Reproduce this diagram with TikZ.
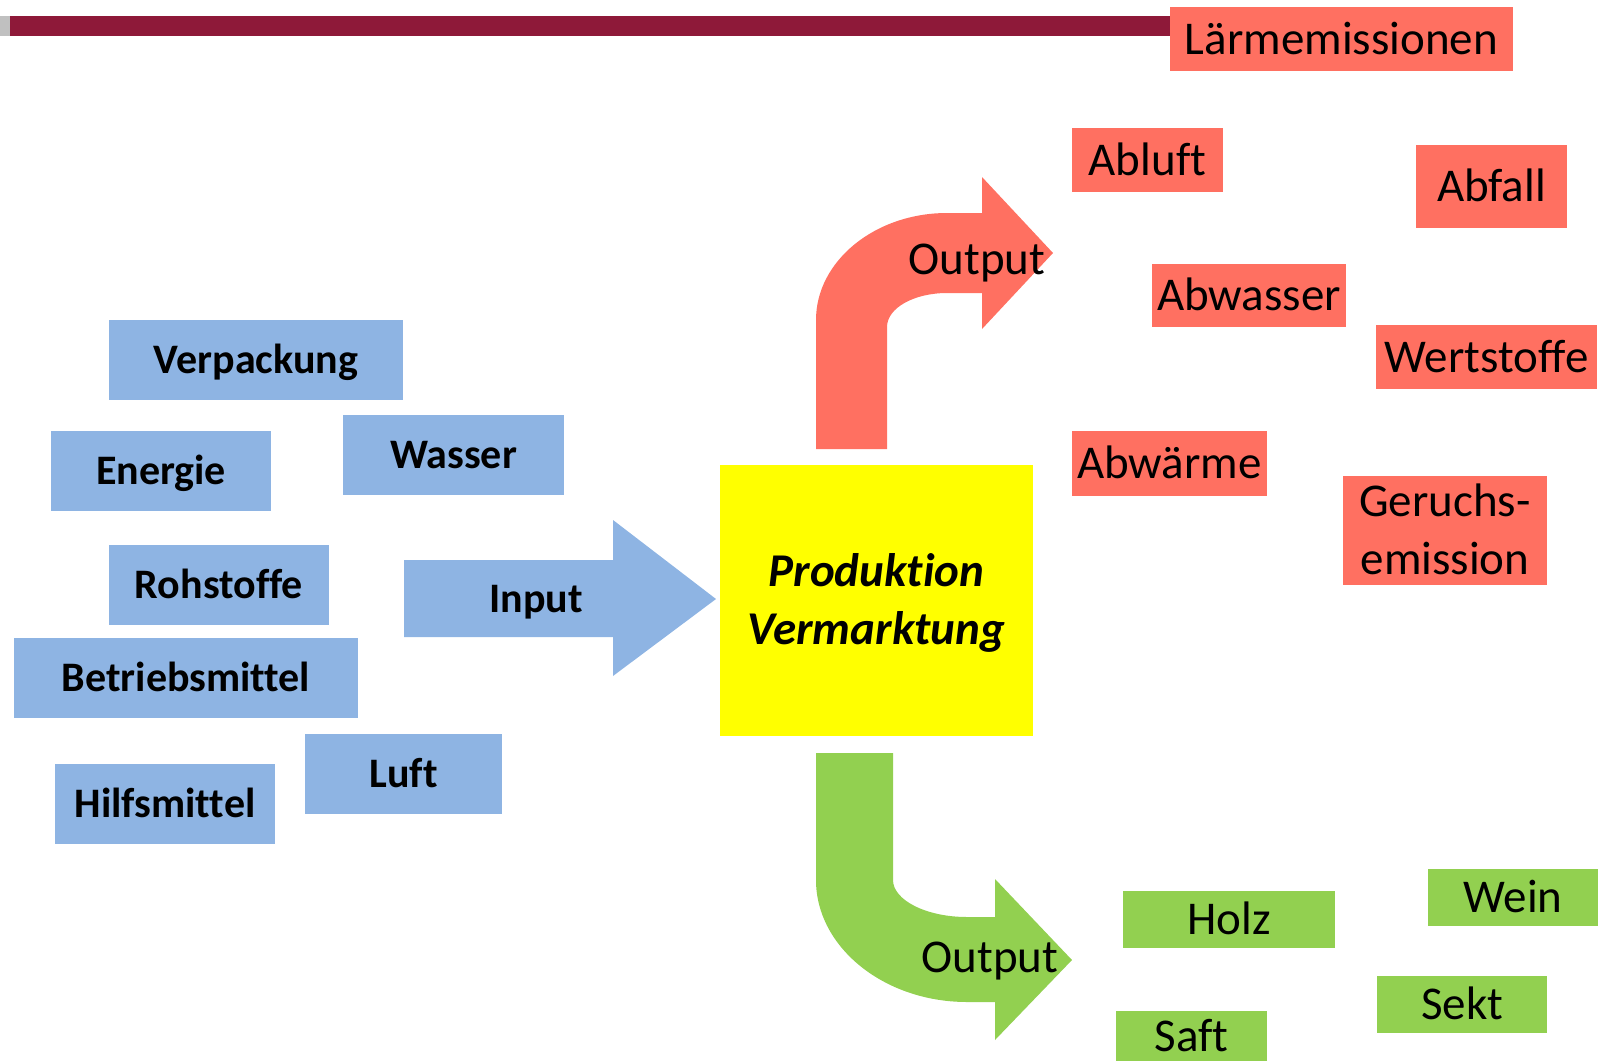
\documentclass[tikz,border=0pt]{standalone}
\usepackage{fontspec}
\setmainfont[Ligatures=NoCommon]{Carlito}
\usepackage{tikz}
\definecolor{myblue}{RGB}{142,180,227}
\definecolor{myred}{RGB}{255,112,97}
\definecolor{mygreen}{RGB}{146,208,80}
\definecolor{myyellow}{RGB}{255,255,0}
\definecolor{mybar}{RGB}{142,25,57}
\definecolor{mygray}{RGB}{192,192,192}

\begin{document}
\begin{tikzpicture}[x=1pt, y=-1pt,
        tagbox/.style={inner sep=0pt, text depth=0pt, align=center},
        inbox/.style={tagbox, fill=myblue, text height=27pt, font=\fontsize{42}{52}\selectfont\bfseries},
        redbox/.style={tagbox, fill=myred, text height=30pt, font=\fontsize{47}{58}\selectfont},
        greenbox/.style={tagbox, fill=mygreen, text height=30pt, font=\fontsize{47}{58}\selectfont}]
        \clip (0,0) rectangle (1599,1061);
        \fill[mygray] (0,16) rectangle (10,36);
        \fill[mybar] (10,16) rectangle (1170,36);

        \node[inbox, minimum width=294, minimum height=80] (verpackung) at (256,360) {Verpackung};
        \node[inbox, minimum width=220, minimum height=80] (energie) at (161,471) {Energie};
        \node[inbox, minimum width=221, minimum height=80] (wasser) at (453.5,455) {Wasser};
        \node[inbox, minimum width=220, minimum height=80] (rohstoffe) at (219,585) {Rohstoffe};
        \node[inbox, minimum width=344, minimum height=80] (betrieb) at (186,678) {Betriebsmittel};
        \node[inbox, minimum width=197, minimum height=80] (luft) at (403.5,774) {Luft};
        \node[inbox, minimum width=220, minimum height=80] (hilfs) at (165,803.5) {Hilfsmittel};

        \fill[myblue] (404,560) -- (613,560) -- (613,520) -- (716,599) -- (613,676) -- (613,637) -- (404,637) -- cycle;
        \node[tagbox, text height=27pt, font=\fontsize{42}{52}\selectfont\bfseries] (input) at (536,599) {Input};

        \node[tagbox, fill=myyellow, minimum width=313, minimum height=271, text height=88pt,
            font=\fontsize{47}{58}\selectfont\bfseries\itshape] (prod) at (876.5,600.5) {Produktion\\Vermarktung};

        \fill[myred] (816,449) -- (816,320) .. controls (816,261) and (875,213) .. (947,213) -- (982,213) -- (982,177)
            -- (1053,253) -- (982,329) -- (982,293) -- (947,293) .. controls (914,293) and (887,308) .. (887,327) -- (887,449) -- cycle;
        \node[tagbox, text height=30pt, font=\fontsize{47}{58}\selectfont] (outup) at (977,259) {Output};

        \fill[mygreen] (816,753) -- (893,753) -- (893,880) .. controls (893,900) and (926,917) .. (967,917) -- (995,917) -- (995,879)
            -- (1072,960) -- (995,1040) -- (995,1002) -- (967,1002) .. controls (884,1002) and (816,947) .. (816,880) -- cycle;
        \node[tagbox, text height=30pt, font=\fontsize{47}{58}\selectfont] (outdown) at (990,957) {Output};

        \node[redbox, minimum width=343, minimum height=64] (laerm) at (1341.5,39) {Lärmemissionen};
        \node[redbox, minimum width=151, minimum height=64] (abluft) at (1147.5,160) {Abluft};
        \node[redbox, minimum width=151, minimum height=83] (abfall) at (1491.5,186.5) {Abfall};
        \node[redbox, minimum width=194, minimum height=63] (abwasser) at (1249,295.5) {Abwasser};
        \node[redbox, minimum width=221, minimum height=64] (wertstoffe) at (1486.5,357) {Wertstoffe};
        \node[redbox, minimum width=195, minimum height=65] (abwaerme) at (1169.5,463.5) {Abwärme};
        \node[redbox, minimum width=204, minimum height=109, text height=88pt] (geruch) at (1445,530.5) {Geruchs-\\emission};

        \node[greenbox, minimum width=212, minimum height=57] (holz) at (1229,919.5) {Holz};
        \node[greenbox, minimum width=170, minimum height=57] (wein) at (1513,897.5) {Wein};
        \node[greenbox, minimum width=170, minimum height=57] (sekt) at (1462,1004.5) {Sekt};
        \node[greenbox, minimum width=151, minimum height=50] (saft) at (1191.5,1036) {Saft};
  \end{tikzpicture}
\end{document}
